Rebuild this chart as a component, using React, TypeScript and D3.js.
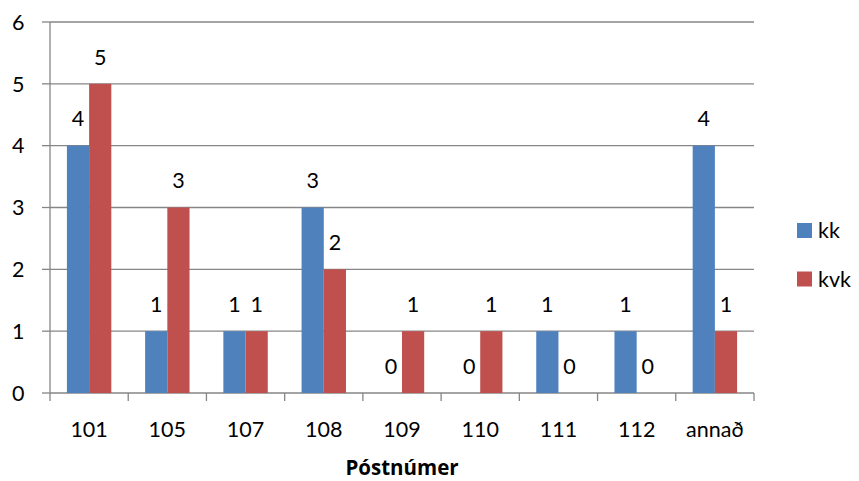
import React from "react";
import * as d3 from "d3";

const categories = ["101", "105", "107", "108", "109", "110", "111", "112", "annað"];
const kk = [4, 1, 1, 3, 0, 0, 1, 1, 4];
const kvk = [5, 3, 1, 2, 1, 1, 0, 0, 1];
const seriesNames = ["kk", "kvk"];
const colors = ["#4F81BD", "#C0504D"];
const yTicks = [0, 1, 2, 3, 4, 5, 6];
const xTitle = "Póstnúmer";

export default function App() {
  const W = 859, H = 481;
  const left = 50, right = 754, top = 22, bottom = 393;
  const x = d3.scaleBand().domain(categories).range([left, right]).paddingInner(0).paddingOuter(0);
  const y = d3.scaleLinear().domain([0, 6]).range([bottom, top]);
  const bw = 22.2;
  const font = "Lato, 'Open Sans', sans-serif";
  const fs = 21.5;
  const series = [kk, kvk];
  return (
    <svg width={W} height={H} style={{ position: "absolute", left: 0, top: 0, background: "#fff" }} fontFamily={font}>
      {yTicks.map((t) => (
        <g key={t}>
          <line x1={left} x2={right} y1={y(t)} y2={y(t)} stroke="#868686" strokeWidth={1.3} />
          <line x1={left - 8} x2={left} y1={y(t)} y2={y(t)} stroke="#868686" strokeWidth={1.3} />
          <text x={24.5} y={y(t)} dy="0.36em" textAnchor="end" fontSize={fs} fill="#000">{t}</text>
        </g>
      ))}
      <line x1={left} x2={left} y1={top} y2={bottom} stroke="#868686" strokeWidth={1.3} />
      {categories.map((c, i) => (
        <line key={"t" + i} x1={x(c)!} x2={x(c)!} y1={bottom} y2={bottom + 8} stroke="#868686" strokeWidth={1.3} />
      ))}
      <line x1={right} x2={right} y1={bottom} y2={bottom + 8} stroke="#868686" strokeWidth={1.3} />
      {categories.map((c, i) => {
        const cx = x(c)! + x.bandwidth() / 2;
        return (
          <g key={c}>
            {series.map((s, k) => {
              const bx = cx - bw + k * bw;
              const v = s[i];
              return (
                <g key={k}>
                  {v > 0 && (
                    <rect x={bx} y={y(v)} width={bw} height={y(0) - y(v)} fill={colors[k]} />
                  )}
                  <text x={bx + bw / 2} y={y(v) - 27} dy="0.36em" textAnchor="middle" fontSize={fs} fill="#000">{v}</text>
                </g>
              );
            })}
            <text x={cx} y={429} dy="0.36em" textAnchor="middle" fontSize={fs} fill="#000">{c}</text>
          </g>
        );
      })}
      <text x={(left + right) / 2} y={468} dy="0.36em" textAnchor="middle" fontSize={20.5} fontWeight="bold" fontFamily="'Open Sans', sans-serif" fill="#000">{xTitle}</text>
      {seriesNames.map((n, k) => (
        <g key={n}>
          <rect x={797} y={223 + k * 48.5} width={15} height={15} fill={colors[k]} />
          <text x={818} y={230.5 + k * 48.5} dy="0.36em" fontSize={fs} fill="#000">{n}</text>
        </g>
      ))}
    </svg>
  );
}
